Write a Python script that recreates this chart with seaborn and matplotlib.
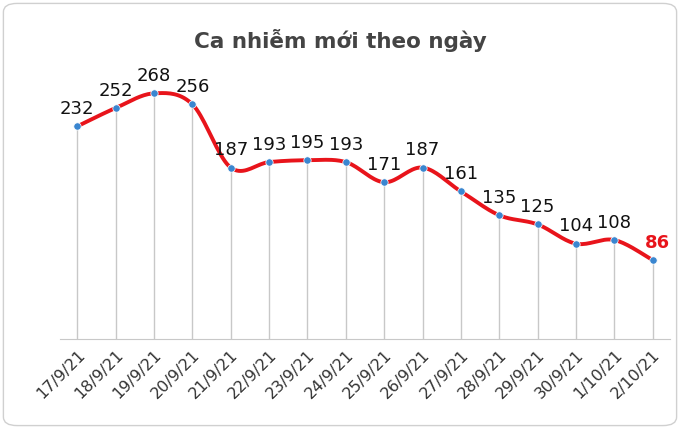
import numpy as np
import matplotlib
matplotlib.use("Agg")
import matplotlib.pyplot as plt
import seaborn as sns
import pandas as pd
from matplotlib.patches import FancyBboxPatch

dates = ["17/9/21","18/9/21","19/9/21","20/9/21","21/9/21","22/9/21","23/9/21","24/9/21",
         "25/9/21","26/9/21","27/9/21","28/9/21","29/9/21","30/9/21","1/10/21","2/10/21"]
cases = [232,252,268,256,187,193,195,193,171,187,161,135,125,104,108,86]

sns.set_style("white")
plt.rcParams['font.family'] = ['DejaVu Sans']
fig = plt.figure(figsize=(6.8,4.29), dpi=100)
fig.patches.append(FancyBboxPatch((0.005,0.008),0.99,0.984,boxstyle="round,pad=0,rounding_size=0.02",
                    transform=fig.transFigure, fill=False, ec="#d0d0d0", lw=1))
ax = fig.add_axes([60/680, 1-339/429, 610/680, (339-64)/429])
df = pd.DataFrame({"x": np.arange(len(cases)), "y": cases})

# smooth curve through points (Catmull-Rom) for rendering only
P = np.array(df[["x","y"]], dtype=float)
Pp = np.vstack([P[0], P, P[-1]])
xs, ys = [], []
for i in range(1, len(Pp)-2):
    p0,p1,p2,p3 = Pp[i-1],Pp[i],Pp[i+1],Pp[i+2]
    t = np.linspace(0,1,20)[:,None]
    c = 0.5*((2*p1)+(-p0+p2)*t+(2*p0-5*p1+4*p2-p3)*t**2+(-p0+3*p1-3*p2+p3)*t**3)
    xs.extend(c[:,0]); ys.extend(c[:,1])
ax.vlines(df.x, 0, df.y, color="#c8c8c8", lw=1, zorder=1)
ax.plot(xs, ys, color="#e8141b", lw=2.8, zorder=2)
sns.scatterplot(data=df, x="x", y="y", ax=ax, color="#3a86d0", s=28, edgecolor="white", linewidth=0.5, zorder=3)
for i,v in enumerate(cases):
    last = i == len(cases)-1
    ax.text(i + (0.12 if last else 0), v+9, str(v), ha="center", va="bottom",
            fontsize=13, color="#e8141b" if last else "#111111",
            fontweight="bold" if last else "normal")
ax.set_xlim(-0.45, len(cases)-0.55)
ax.set_ylim(0, 300)
ax.set_xticks(df.x)
ax.set_xticklabels(dates, rotation=45, ha="right", rotation_mode="anchor", fontsize=11.5, color="#333333")
ax.tick_params(axis="x", length=0, pad=6)
ax.set_yticks([])
ax.set_xlabel(""); ax.set_ylabel("")
for s in ["top","left","right"]:
    ax.spines[s].set_visible(False)
ax.spines["bottom"].set_color("#c8c8c8")
fig.text(0.5, 1-40/429, "Ca nhiễm mới theo ngày", ha="center", va="center", fontsize=15.5,
         fontweight="bold", color="#444444")
fig.savefig("out.png", dpi=100)
